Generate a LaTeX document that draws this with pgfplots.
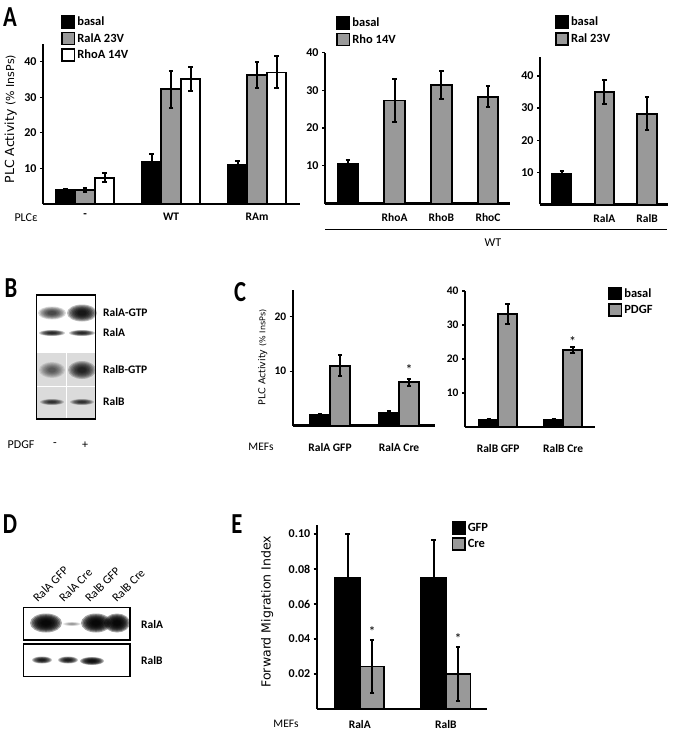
\documentclass[border=0pt]{standalone}
\usepackage{fontspec}
\setmainfont{Carlito}
\newfontfamily\dv{DejaVu Sans}
\usepackage{pgfplots}
\pgfplotsset{compat=1.18}
\definecolor{barg}{gray}{0.6}
\pgfplotsset{
  panel/.style={
    scale only axis, anchor=south west,
    axis x line*=bottom, axis y line*=left,
    axis line style={line width=2.2pt,-},
    ymin=0, enlargelimits=false, clip=false,
    xtick style={draw=none},
    ytick style={line width=1.2pt,black},
    tick align=outside, major tick length=3pt,
    /pgf/number format/assume math mode=true,
    yticklabel style={font=\bfseries\fontsize{12}{13}\selectfont},
    xticklabel style={font=\bfseries\fontsize{11.5}{12}\selectfont, yshift=-3pt},
    ybar=0pt,
    legend style={draw=none, fill=none, font=\bfseries\fontsize{12.5}{14}\selectfont,
      legend cell align=left, row sep=2.5pt, inner sep=0pt},
    legend image code/.code={\draw[##1,/tikz/.cd,line width=1.6pt] (0pt,-6pt) rectangle (12.5pt,6pt);},
    ylabel style={anchor=center},
  },
  eb/.style={error bars/y dir=both, error bars/y explicit,
    error bars/error bar style={line width=2pt,black},
    error bars/error mark options={line width=2pt, mark size=2.2pt, black, rotate=90}},
  bk/.style={fill=black, draw=black, line width=1.8pt, eb},
  gr/.style={fill=barg, draw=black, line width=1.8pt, eb},
  wh/.style={fill=white, draw=black, line width=1.8pt, eb},
}
\newcommand\band[5]{%
  \foreach \s in {1.0,0.9,0.8,0.7,0.6,0.5,0.4,0.3}{\fill[black, opacity=#5] (#1,#2) ellipse ({#3*\s*1pt} and {#4*\s*1pt});}}
\begin{document}
\begin{tikzpicture}
\path[use as bounding box] (0pt,0pt) rectangle (673pt,-734pt);

% ---------- Panel A1
\begin{axis}[panel, at={(43pt,-204pt)}, width=257pt, height=160pt,
  xmin=-0.49, xmax=2.5, ymax=45, bar width=0.227,
  xtick={0,1,2}, xticklabels={-,WT,RAm}, ytick={10,20,30,40},
  ylabel={\dv\fontsize{12.5}{13}\selectfont PLC Activity {\fontsize{11}{12}\selectfont(\% InsPs)}},
  ylabel style={at={(axis description cs:-0.126,0.53)}},
  legend style={at={(0.07,1.185)}, anchor=north west}]
\addplot[bk] coordinates {(0,3.9) +- (0,0.3) (1,11.8) +- (0,2.2) (2,10.9) +- (0,1.2)};
\addplot[gr] coordinates {(0,4.0) +- (0,0.5) (1,32.3) +- (0,5.2) (2,36.2) +- (0,3.7)};
\addplot[wh] coordinates {(0,7.4) +- (0,1.2) (1,35.1) +- (0,3.3) (2,37.0) +- (0,4.5)};
\legend{basal, RalA 23V, RhoA 14V}
\end{axis}

% ---------- Panel A2
\begin{axis}[panel, at={(325pt,-203.5pt)}, width=185pt, height=151pt,
  xmin=-0.49, xmax=3.47, ymax=40, bar width=0.44,
  xtick={1,2,3}, xticklabels={RhoA,RhoB,RhoC}, ytick={10,20,30,40},
  legend style={at={(0.06,1.245)}, anchor=north west}]
\addplot[bar shift=0pt, bk] coordinates {(0,10.4) +- (0,1.2)};
\addplot[bar shift=0pt, gr] coordinates {(1,27.3) +- (0,5.6) (2,31.3) +- (0,3.7) (3,28.3) +- (0,2.8)};
\legend{basal, Rho 14V}
\end{axis}

% ---------- Panel A3
\begin{axis}[panel, at={(540pt,-204.4pt)}, width=128pt, height=147.7pt,
  xmin=-0.51, xmax=2.49, ymax=46, bar width=0.46,
  xtick={1,2}, xticklabels={RalA,RalB}, ytick={10,20,30,40},
  legend style={at={(0.115,1.285)}, anchor=north west}]
\addplot[bar shift=0pt, bk] coordinates {(0,9.4) +- (0,1.1)};
\addplot[bar shift=0pt, gr] coordinates {(1,35.1) +- (0,3.8) (2,28.2) +- (0,5.1)};
\legend{basal, Ral 23V}
\end{axis}

% ---------- Panel C1
\begin{axis}[panel, at={(292.7pt,-425.5pt)}, width=142.3pt, height=135.8pt,
  xmin=-0.54, xmax=1.52, ymax=25, bar width=0.29,
  xtick={0,1}, xticklabels={RalA GFP,RalA Cre}, ytick={10,20},
  yticklabel style={font=\bfseries\fontsize{11.5}{12}\selectfont},
  ylabel={\dv\fontsize{9.5}{11}\selectfont PLC Activity {\fontsize{8}{10}\selectfont(\% InsPs)}},
  ylabel style={at={(axis description cs:-0.21,0.5)}},
  xticklabel style={yshift=-8pt}]
\addplot[bk] coordinates {(0,1.9) +- (0,0.3) (1,2.3) +- (0,0.4)};
\addplot[gr] coordinates {(0,11.0) +- (0,1.9) (1,8.0) +- (0,0.65)};
\node[font=\fontsize{14}{14}\selectfont] at (axis cs:1.145,10.3) {*};
\end{axis}

% ---------- Panel C2
\begin{axis}[panel, at={(465pt,-427pt)}, width=130pt, height=136pt,
  xmin=-0.51, xmax=1.49, ymax=40, bar width=0.29,
  xtick={0,1}, xticklabels={RalB GFP,RalB Cre}, ytick={10,20,30,40},
  yticklabel style={font=\bfseries\fontsize{11.5}{12}\selectfont},
  xticklabel style={yshift=-8pt},
  legend style={at={(1.1,1.035)}, anchor=north west}]
\addplot[bk] coordinates {(0,2.1) +- (0,0.4) (1,2.1) +- (0,0.4)};
\addplot[gr] coordinates {(0,33.2) +- (0,3.0) (1,22.6) +- (0,0.9)};
\node[font=\fontsize{14}{14}\selectfont] at (axis cs:1.145,25.0) {*};
\legend{basal, PDGF}
\end{axis}

% ---------- Panel E
\begin{axis}[panel, at={(316.7pt,-709pt)}, width=170.6pt, height=183.75pt,
  xmin=-0.5, xmax=1.48, ymax=0.105, bar width=0.285,
  xtick={0,1}, xticklabels={RalA,RalB}, ytick={0.02,0.04,0.06,0.08,0.10},
  scaled y ticks=false,
  yticklabel style={/pgf/number format/.cd, fixed, fixed zerofill, precision=2},
  ylabel={\dv\fontsize{12.5}{13}\selectfont Forward Migration Index},
  ylabel style={at={(axis description cs:-0.29,0.53)}},
  xticklabel style={yshift=-2pt},
  legend style={at={(0.79,1.025)}, anchor=north west}]
\addplot[bk] coordinates {(0,0.075) +- (0,0.025) (1,0.075) +- (0,0.0216)};
\addplot[gr] coordinates {(0,0.0243) +- (0,0.0154) (1,0.020) +- (0,0.0155)};
\node[font=\fontsize{14}{14}\selectfont] at (axis cs:0.1425,0.0445) {*};
\node[font=\fontsize{14}{14}\selectfont] at (axis cs:1.1425,0.0400) {*};
\legend{GFP, Cre}
\end{axis}

\begin{scope}[x=1pt,y=-1pt]
% panel letters
\foreach \L/\px/\py in {A/10/17, B/11/288, C/240/292, D/10/524, E/237/524}
  \node[font=\bfseries\fontsize{29}{30}\selectfont, inner sep=0pt] at (\px,\py) {\scalebox{0.78}[1]{\L}};
% A annotations
\node[font=\fontsize{12}{12}\selectfont] at (26,218) {PLCε};
\draw[line width=1pt] (325,229.3) -- (667,229.3);
\node[font=\fontsize{12}{12}\selectfont] at (493,243) {WT};
% C / E row labels
\node[font=\fontsize{11.5}{12}\selectfont] at (261,447) {MEFs};
\node[font=\fontsize{11.5}{12}\selectfont] at (286,724) {MEFs};

% ---------- Blot B
\fill[gray!28] (37,352) rectangle (95.3,418.6);
\band{52}{313}{14}{6.5}{0.144}
\band{82}{313}{15}{8.5}{0.26}
\band{52}{333}{13}{3}{0.2}
\band{82}{333}{13}{3}{0.2}
\band{52}{370}{13}{8}{0.10}
\band{82}{370}{14}{9}{0.2}
\band{52}{402}{12}{3}{0.17}
\band{82}{402}{12}{3}{0.17}
\draw[white, line width=2pt] (37,352) -- (95.3,352);
\draw[white, line width=1.5pt] (37,386.5) -- (95.3,386.5);
\draw[white, line width=1.5pt] (66.7,352) -- (66.7,418.6);
\draw[line width=1.2pt] (36.7,295) rectangle (95.7,419);
\foreach \t/\yy in {RalA-GTP/313, RalA/333, RalB-GTP/370, RalB/402}
  \node[anchor=west, font=\bfseries\fontsize{11.5}{12}\selectfont, inner sep=0pt] at (103,\yy) {\t};
\node[font=\fontsize{12}{12}\selectfont] at (21,445) {PDGF};
\node[font=\fontsize{12}{12}\selectfont] at (55,445) {-};
\node[font=\fontsize{12}{12}\selectfont] at (85,445) {+};

% ---------- Blot D
\band{46}{623}{16}{9.5}{0.35}
\band{72}{624}{9}{2}{0.064}
\band{96}{623}{15}{9.5}{0.35}
\band{117}{623}{13}{9.5}{0.35}
\band{42}{660}{10}{3.5}{0.236}
\band{68}{660}{10}{3.5}{0.236}
\band{92}{661}{12}{4}{0.29}
\draw[line width=1.2pt] (23.6,607.3) rectangle (130,640);
\draw[line width=1.2pt] (23.6,644) rectangle (130,676.7);
\foreach \t/\xx in {RalA GFP/38, RalA Cre/64, RalB GFP/90, RalB Cre/117}
  \node[rotate=45, anchor=south west, inner sep=0pt, font=\fontsize{12}{12}\selectfont] at (\xx,603) {\t};
\node[anchor=west, font=\bfseries\fontsize{11.5}{12}\selectfont, inner sep=0pt] at (141,624) {RalA};
\node[anchor=west, font=\bfseries\fontsize{11.5}{12}\selectfont, inner sep=0pt] at (141,660) {RalB};
\end{scope}
\end{tikzpicture}
\end{document}
